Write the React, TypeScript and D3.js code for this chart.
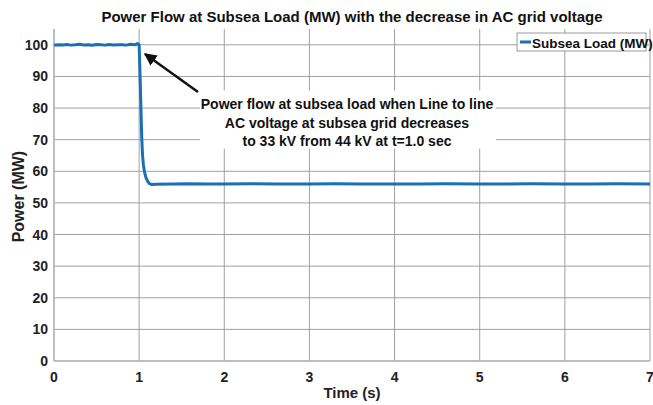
import React from "react";
import * as d3 from "d3";

const W = 653, H = 405;
const margin = { left: 54, right: 3, top: 29, bottom: 44 };

const xTicks = [0, 1, 2, 3, 4, 5, 6, 7];
const yTicks = [0, 10, 20, 30, 40, 50, 60, 70, 80, 90, 100];

const times = [
  0, 0.05, 0.1, 0.15, 0.2, 0.25, 0.3, 0.35, 0.4, 0.45, 0.5, 0.55, 0.6, 0.65, 0.7, 0.75, 0.8, 0.85, 0.9, 0.95, 0.98, 1.0,
  1.01, 1.02, 1.03, 1.04, 1.05, 1.06, 1.07, 1.08, 1.1, 1.12, 1.15, 1.2,
  1.4, 1.6, 1.8, 2.0, 2.3, 2.6, 3.0, 3.3, 3.6, 4.0, 4.3, 4.6, 5.0, 5.3, 5.6, 6.0, 6.3, 6.6, 7.0,
];
const power = [
  99.9, 100.05, 99.95, 100.1, 99.9, 100.0, 100.15, 99.95, 100.05, 99.85, 100.1, 100.0, 99.9, 100.1, 99.95, 100.05, 100.0, 99.9, 100.15, 100.0, 100.4, 100.0,
  91, 81, 71, 65, 62, 60.3, 59.0, 58.0, 56.8, 56.1, 55.8, 55.9,
  56.0, 56.05, 55.95, 56.0, 56.05, 55.95, 56.0, 56.05, 55.95, 56.0, 55.95, 56.05, 56.0, 55.95, 56.05, 56.0, 55.95, 56.05, 55.95,
];

const annotationLines = [
  "Power flow at subsea load when Line to line",
  "AC voltage at subsea grid decreases",
  "to 33 kV from 44 kV at t=1.0 sec",
];

export default function App() {
  const x = d3.scaleLinear().domain([0, 7]).range([margin.left, W - margin.right - 0]);
  const y = d3.scaleLinear().domain([0, 105]).range([H - margin.bottom, margin.top]);
  const line = d3
    .line<number>()
    .x((_, i) => x(times[i]))
    .y((d) => y(d));
  const font = "'Liberation Sans', Arial, sans-serif";
  const grid = "#a0a0a0";
  const blue = "#1a6fb5";
  return (
    <svg width={W} height={H} style={{ position: "absolute", left: 0, top: 0, background: "#fff" }} fontFamily={font}>
      <rect x={0} y={0} width={W} height={H} fill="#fff" />
      {yTicks.map((t) => (
        <line key={"gy" + t} x1={x(0)} x2={x(7)} y1={y(t)} y2={y(t)} stroke={grid} strokeWidth={1} />
      ))}
      {xTicks.map((t) => (
        <line key={"gx" + t} x1={x(t)} x2={x(t)} y1={y(0)} y2={y(105)} stroke={grid} strokeWidth={1} />
      ))}
      <line x1={x(0)} x2={x(0)} y1={y(0)} y2={y(105)} stroke="#b8b8b8" strokeWidth={1.5} />
      <line x1={x(0)} x2={x(7)} y1={y(0)} y2={y(0)} stroke="#b8b8b8" strokeWidth={1.5} />
      {yTicks.map((t) => (
        <text key={"ty" + t} x={x(0) - 6} y={y(t) + 5} textAnchor="end" fontSize={14} fontWeight="bold" fill="#222">
          {t}
        </text>
      ))}
      {xTicks.map((t) => (
        <text key={"tx" + t} x={x(t)} y={y(0) + 21} textAnchor="middle" fontSize={14} fontWeight="bold" fill="#222">
          {t}
        </text>
      ))}
      <path d={line(power) || ""} fill="none" stroke={blue} strokeWidth={3} strokeLinejoin="round" />
      <text x={352} y={22} textAnchor="middle" fontSize={15} fontWeight="bold" fill="#111">
        Power Flow at Subsea Load (MW) with the decrease in AC grid voltage
      </text>
      <text x={352} y={398} textAnchor="middle" fontSize={15} fontWeight="bold" fill="#222">
        Time (s)
      </text>
      <text transform={`translate(24,${y(52)}) rotate(-90)`} textAnchor="middle" fontSize={16} fontWeight="bold" fill="#222">
        Power (MW)
      </text>
      <rect x={200} y={y(85.5)} width={296} height={58} fill="#fff" />
      {annotationLines.map((s, i) => (
        <text key={i} x={347} y={109 + i * 18.5} textAnchor="middle" fontSize={14} fontWeight="bold" fill="#111">
          {s}
        </text>
      ))}
      <defs>
        <marker id="ah" viewBox="0 0 10 10" refX={9} refY={5} markerWidth={5} markerHeight={5} orient="auto">
          <path d="M0,0 L10,5 L0,10 z" fill="#111" />
        </marker>
      </defs>
      <line x1={198} y1={92} x2={145} y2={54} stroke="#111" strokeWidth={2.5} markerEnd="url(#ah)" />
      <rect x={517} y={33} width={129} height={18} fill="#fff" stroke="#999" strokeWidth={1} />
      <line x1={520} x2={531} y1={42} y2={42} stroke={blue} strokeWidth={3} />
      <text x={532} y={47.5} fontSize={13.5} fontWeight="bold" fill="#111">
        Subsea Load (MW)
      </text>
    </svg>
  );
}
